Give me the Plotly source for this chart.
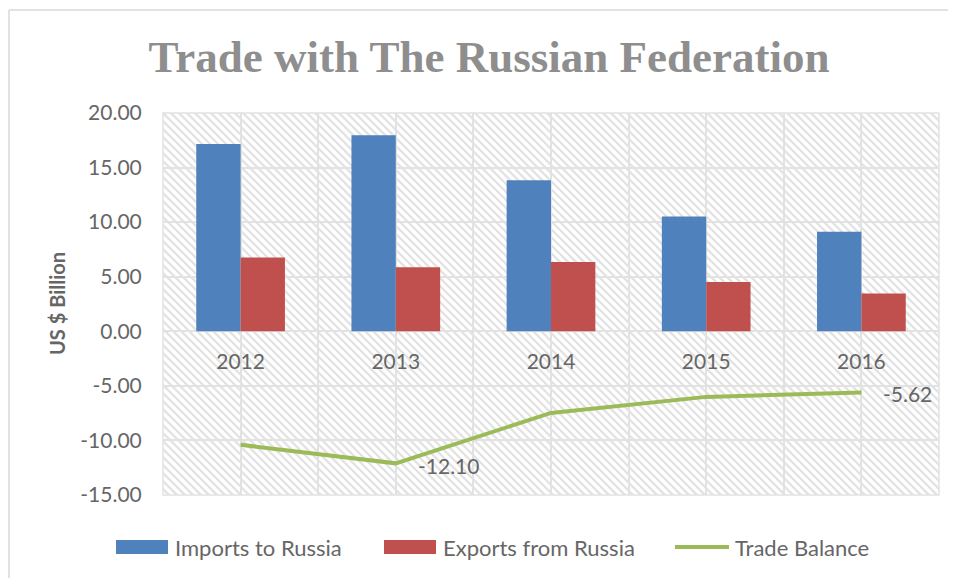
import base64
import plotly.graph_objects as go

years = ["2012", "2013", "2014", "2015", "2016"]
imports_to_russia = [17.15, 17.96, 13.83, 10.52, 9.11]
exports_from_russia = [6.75, 5.86, 6.35, 4.51, 3.47]
trade_balance = [-10.40, -12.10, -7.48, -6.01, -5.62]
label_idx = [1, 4]
series_names = ["Imports to Russia", "Exports from Russia", "Trade Balance"]
y_ticks = [-15, -10, -5, 0, 5, 10, 15, 20]

BLUE = "#4F81BD"
RED = "#C0504D"
GREEN = "#9BBB59"
TXT = "#666666"
GRID = "#e2e2e2"
FONT = "Lato"

OFF = 8  # page body margin
W, H = 956 - OFF, 580 - OFF
L, T = 163 - OFF, 113 - OFF
R, B = 17, 85
PW, PH = W - L - R, H - T - B

def px_x(px):
    return (px - OFF - L) / PW

def px_y(py):
    return (T + PH - (py - OFF)) / PH

xs = list(range(len(years)))

fig = go.Figure()
fig.add_trace(go.Bar(x=xs, y=imports_to_russia, name=series_names[0],
                     marker=dict(color=BLUE, line=dict(width=0))))
fig.add_trace(go.Bar(x=xs, y=exports_from_russia, name=series_names[1],
                     marker=dict(color=RED, line=dict(width=0))))
fig.add_trace(go.Scatter(x=xs, y=trade_balance, name=series_names[2], mode="lines",
                         line=dict(color=GREEN, width=4)))

# hatch background
svg = (f'<svg xmlns="http://www.w3.org/2000/svg" width="{PW}" height="{PH}">'
       '<defs><pattern id="p" width="8" height="8" patternUnits="userSpaceOnUse">'
       '<path d="M-2,-2 L10,10 M-2,6 L2,10 M6,-2 L10,2" stroke="#e3e3e3" stroke-width="2.3"/>'
       '</pattern></defs>'
       f'<rect width="{PW}" height="{PH}" fill="white"/>'
       f'<rect width="{PW}" height="{PH}" fill="url(#p)"/></svg>')
src = "data:image/svg+xml;base64," + base64.b64encode(svg.encode()).decode()

annotations = []
for i in label_idx:
    annotations.append(dict(x=xs[i], y=trade_balance[i], xref="x", yref="y",
                            text=f"{trade_balance[i]:.2f}", showarrow=False,
                            xanchor="left", yanchor="middle", xshift=20, yshift=-2 if i == 1 else -1,
                            font=dict(family=FONT, size=21, color=TXT)))
annotations.append(dict(x=px_x(57), y=0.5, xref="paper", yref="paper", text="<b>US $ Billion</b>",
                        textangle=-90, showarrow=False, xanchor="center", yanchor="middle",
                        font=dict(family=FONT, size=20, color=TXT)))

shapes = [
    dict(type="rect", xref="paper", yref="paper", x0=0, x1=1, y0=0, y1=1,
         line=dict(color=GRID, width=1.5), layer="above"),
    dict(type="line", xref="paper", yref="paper", x0=px_x(9), x1=px_x(960), y0=px_y(10), y1=px_y(10),
         line=dict(color="#d9d9d9", width=1.5)),
    dict(type="line", xref="paper", yref="paper", x0=px_x(9), x1=px_x(9), y0=px_y(10), y1=px_y(578),
         line=dict(color="#d9d9d9", width=1.5)),
]

# custom legend
leg_y = 547
leg_items = [(116, 168, 173, BLUE, "rect"), (384, 436, 441, RED, "rect"), (675, 729, 733, GREEN, "line")]
for (x0, x1, tx, col, kind), name in zip(leg_items, series_names):
    if kind == "rect":
        shapes.append(dict(type="rect", xref="paper", yref="paper", x0=px_x(x0), x1=px_x(x1),
                           y0=px_y(leg_y + 7), y1=px_y(leg_y - 7), fillcolor=col, line=dict(width=0)))
    else:
        shapes.append(dict(type="line", xref="paper", yref="paper", x0=px_x(x0), x1=px_x(x1),
                           y0=px_y(leg_y), y1=px_y(leg_y), line=dict(color=col, width=4)))
    annotations.append(dict(x=px_x(tx), y=px_y(leg_y), xref="paper", yref="paper", text=name,
                            showarrow=False, xanchor="left", yanchor="middle",
                            font=dict(family=FONT, size=22, color=TXT)))

fig.update_layout(
    width=W, height=H,
    margin=dict(l=L, r=R, t=T, b=B),
    paper_bgcolor="white", plot_bgcolor="rgba(0,0,0,0)",
    barmode="group", bargap=1.5 / 3.5, bargroupgap=0,
    showlegend=False,
    title=dict(text="<b>Trade with The Russian Federation</b>", x=(489 - OFF) / W, xanchor="center",
               y=1 - (56 - OFF) / H, yanchor="middle",
               font=dict(family="Liberation Serif", size=45, color="#8e8e8e")),
    images=[dict(source=src, xref="paper", yref="paper", x=0, y=1, sizex=1, sizey=1,
                 xanchor="left", yanchor="top", sizing="stretch", layer="below")],
    shapes=shapes,
    annotations=annotations,
    xaxis=dict(range=[-0.5, len(years) - 0.5], tickmode="array", tickvals=xs, ticktext=years,
               anchor="free", position=15 / 35, showline=False, zeroline=False,
               showgrid=True, gridcolor=GRID, gridwidth=1.5,
               ticks="outside", ticklen=12, tickcolor="rgba(0,0,0,0)",
               tickfont=dict(family=FONT, size=21, color=TXT),
               minor=dict(tickmode="array", tickvals=[i - 0.5 for i in range(len(years) + 1)],
                          showgrid=True, gridcolor=GRID, gridwidth=1.5, ticks="")),
    yaxis=dict(range=[-15, 20], tickmode="array", tickvals=y_ticks,
               ticktext=[f"{v:.2f}" for v in y_ticks],
               showgrid=True, gridcolor=GRID, gridwidth=1.5, zeroline=True, zerolinecolor=GRID,
               zerolinewidth=1.5, showline=False,
               ticks="outside", ticklen=16, tickcolor="rgba(0,0,0,0)",
               tickfont=dict(family=FONT, size=21, color=TXT)),
)

fig.write_html("out.html")
